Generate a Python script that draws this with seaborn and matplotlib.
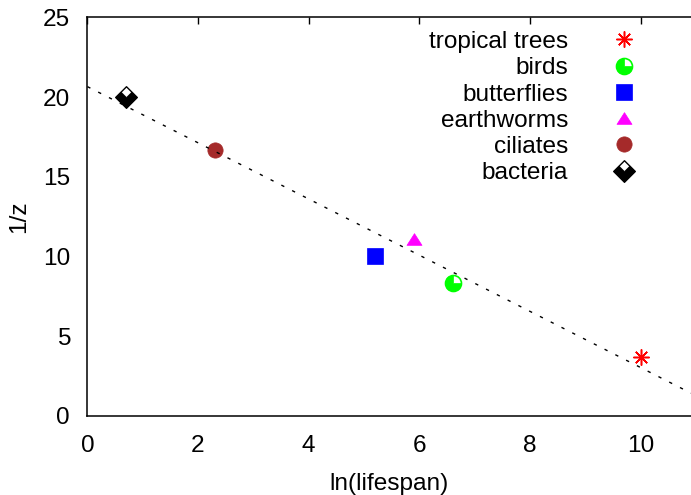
import numpy as np
import pandas as pd
import matplotlib
matplotlib.use("Agg")
import matplotlib.pyplot as plt
from matplotlib.path import Path
import seaborn as sns

# data
groups = ["tropical trees", "birds", "butterflies", "earthworms", "ciliates", "bacteria"]
ln_lifespan = [10.0, 6.6, 5.2, 5.9, 2.3, 0.69]
inv_z = [3.7, 8.3, 10.0, 11.1, 16.7, 20.0]

xticks = [0, 2, 4, 6, 8, 10]
yticks = [0, 5, 10, 15, 20, 25]

df = pd.DataFrame({"group": groups, "x": ln_lifespan, "y": inv_z})

sns.set_theme(style="white")
plt.rcParams["font.family"] = ["Liberation Sans", "DejaVu Sans"]
plt.rcParams["text.color"] = "black"
fs = 17.6

fig = plt.figure(figsize=(6.91, 4.95), dpi=100)
ax = fig.add_axes([0.1265, 0.1602, 0.8735, 0.8048])
ax.set_xlim(0, 10.91)
ax.set_ylim(0, 25)

# custom marker shapes (gnuplot style)
wedge = Path.wedge(90, 360)
tri = Path([(0, 0.78), (-1, -0.78), (1, -0.78), (0, 0.78)], closed=True)
diamond = Path([(0, 1), (1, 0), (0, -1), (-1, 0), (0, 1)], closed=True)
diamond_black = Path([(0.5, 0.5), (1, 0), (0, -1), (-1, 0), (-0.5, 0.5), (0, 0), (0.5, 0.5)], closed=True)

handles = {}
r = df.set_index("group")

h = ax.plot(r.loc["tropical trees", "x"], r.loc["tropical trees", "y"], ls="none",
            marker=(8, 2, 0), ms=11.5, mew=1.1, color="#ff0000")[0]
handles["tropical trees"] = h

h1 = ax.plot(r.loc["birds", "x"], r.loc["birds", "y"], ls="none", marker="o", ms=11.5,
             mfc="white", mec="#00ff00", mew=1.2)[0]
h2 = ax.plot(r.loc["birds", "x"], r.loc["birds", "y"], ls="none", marker=wedge, ms=11.5,
             mfc="#00ff00", mec="#00ff00", mew=0.5)[0]
handles["birds"] = (h1, h2)

h = ax.plot(r.loc["butterflies", "x"], r.loc["butterflies", "y"], ls="none", marker="s",
            ms=11, mfc="#0000ff", mec="#0000ff", mew=0.5)[0]
handles["butterflies"] = h

h = ax.plot(r.loc["earthworms", "x"], r.loc["earthworms", "y"], ls="none", marker=tri,
            ms=10.8, mfc="#ff00ff", mec="#ff00ff", mew=0.5)[0]
handles["earthworms"] = h

h = ax.plot(r.loc["ciliates", "x"], r.loc["ciliates", "y"], ls="none", marker="o",
            ms=11, mfc="#a52a2a", mec="#a52a2a", mew=0.5)[0]
handles["ciliates"] = h

h1 = ax.plot(r.loc["bacteria", "x"], r.loc["bacteria", "y"], ls="none", marker=diamond,
             ms=15.5, mfc="white", mec="black", mew=1.0)[0]
h2 = ax.plot(r.loc["bacteria", "x"], r.loc["bacteria", "y"], ls="none", marker=diamond_black,
             ms=15.5, mfc="black", mec="black", mew=0.5)[0]
handles["bacteria"] = (h1, h2)

# least squares fit, dashed, drawn over the points
sns.regplot(data=df, x="x", y="y", ax=ax, ci=None, scatter=False, truncate=False,
            line_kws=dict(color="black", lw=1.0, ls=(0, (2.4, 6.3)), zorder=5))

ax.set_xticks(xticks)
ax.set_yticks(yticks)
ax.tick_params(direction="in", length=5, width=1, top=True, right=False,
               labelsize=fs, colors="black")
ax.tick_params(axis="y", pad=12.5)
ax.tick_params(axis="x", pad=14)
for s in ["left", "bottom", "top"]:
    ax.spines[s].set_color("black")
    ax.spines[s].set_linewidth(1.1)
ax.spines["right"].set_visible(False)

ax.set_xlabel("ln(lifespan)", fontsize=fs, color="black", labelpad=11.5)
ax.set_ylabel("1/z", fontsize=fs, color="black", labelpad=9)

ax.legend([handles[g] for g in groups], groups, loc="upper right",
          bbox_to_anchor=(0.930, 0.966), frameon=False, markerfirst=False,
          fontsize=fs, borderpad=0, borderaxespad=0, labelspacing=0.17,
          handlelength=2.0, handletextpad=1.3)

fig.savefig("out.png", dpi=100)
